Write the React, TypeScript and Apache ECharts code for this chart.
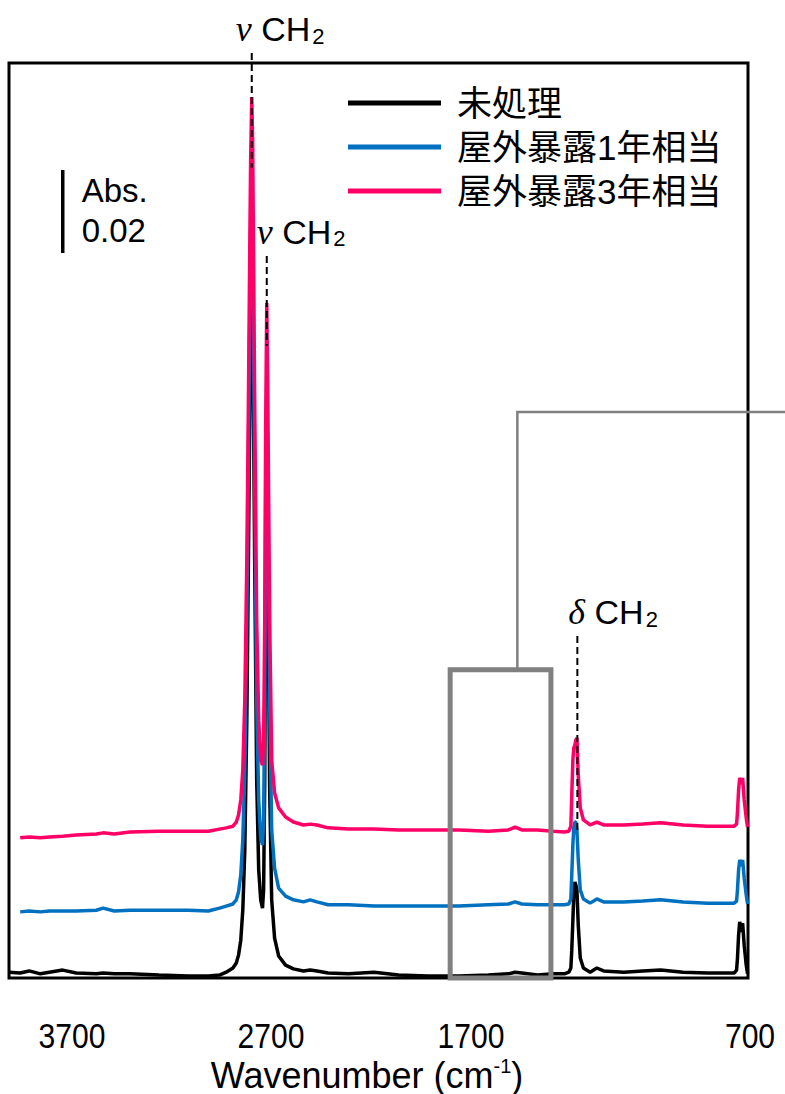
import React, { useEffect, useRef } from 'react';
import * as echarts from 'echarts';

// Wavenumber grid (cm-1), shared by all three spectra
const wavenumbers = [
  4000, 3950, 3910, 3860, 3820, 3760, 3700, 3610, 3580, 3530,
  3460, 3330, 3200, 3110, 3060, 3030, 3000, 2985, 2975, 2965,
  2956, 2947, 2938, 2930, 2925, 2921, 2916, 2912, 2903, 2894,
  2885, 2876, 2868, 2863, 2858, 2854, 2849, 2845, 2836, 2827,
  2814, 2796, 2765, 2730, 2685, 2655, 2625, 2575, 2485, 2370,
  2260, 2130, 1990, 1860, 1770, 1740, 1710, 1640, 1570, 1520,
  1500, 1491, 1487, 1482, 1478, 1473, 1469, 1464, 1458, 1449,
  1435, 1405, 1375, 1345, 1255, 1170, 1090, 990, 880, 790,
  762, 751, 747, 742, 737, 733, 729, 724, 717, 708, 702,
];

// Absorbance, untreated sample
const untreated = [
  0.0014, 0.0012, 0.0017, 0.0010, 0.0014, 0.0019, 0.0012, 0.0010, 0.0012, 0.0010,
  0.0010, 0.0007, 0.0005, 0.0005, 0.0007, 0.0014, 0.0024, 0.0036, 0.0055, 0.0091,
  0.0163, 0.0308, 0.0620, 0.1053, 0.1342, 0.1582, 0.1762, 0.1630, 0.1005, 0.0476,
  0.0260, 0.0188, 0.0168, 0.0212, 0.0476, 0.0909, 0.1270, 0.1053, 0.0452, 0.0188,
  0.0096, 0.0053, 0.0031, 0.0022, 0.0017, 0.0019, 0.0017, 0.0012, 0.0010, 0.0014,
  0.0007, 0.0005, 0.0005, 0.0007, 0.0010, 0.0014, 0.0012, 0.0007, 0.0010, 0.0010,
  0.0014, 0.0024, 0.0067, 0.0139, 0.0200, 0.0231, 0.0224, 0.0212, 0.0127, 0.0048,
  0.0024, 0.0014, 0.0024, 0.0017, 0.0014, 0.0017, 0.0019, 0.0014, 0.0012, 0.0012,
  0.0012, 0.0019, 0.0048, 0.0103, 0.0135, 0.0120, 0.0111, 0.0132, 0.0079, 0.0031, 0.0010,
];

// Absorbance, 1 year outdoor-exposure equivalent (offset trace)
const outdoor1y = [
  null, 0.0159, 0.0161, 0.0159, 0.0161, 0.0161, 0.0161, 0.0163, 0.0168, 0.0161,
  0.0163, 0.0163, 0.0163, 0.0161, 0.0168, 0.0173, 0.0178, 0.0188, 0.0207, 0.0248,
  0.0332, 0.0500, 0.0861, 0.1294, 0.1582, 0.1798, 0.1931, 0.1823, 0.1197, 0.0668,
  0.0428, 0.0337, 0.0320, 0.0380, 0.0668, 0.1125, 0.1438, 0.1245, 0.0668, 0.0356,
  0.0264, 0.0216, 0.0197, 0.0188, 0.0183, 0.0188, 0.0183, 0.0176, 0.0176, 0.0173,
  0.0173, 0.0173, 0.0173, 0.0176, 0.0178, 0.0183, 0.0178, 0.0176, 0.0176, 0.0176,
  0.0178, 0.0190, 0.0248, 0.0320, 0.0361, 0.0375, 0.0375, 0.0356, 0.0284, 0.0212,
  0.0190, 0.0180, 0.0190, 0.0183, 0.0183, 0.0185, 0.0188, 0.0183, 0.0180, 0.0180,
  0.0180, 0.0185, 0.0212, 0.0260, 0.0284, 0.0277, 0.0269, 0.0284, 0.0240, 0.0200, 0.0178,
];

// Absorbance, 3 years outdoor-exposure equivalent (offset trace)
const outdoor3y = [
  null, 0.0337, 0.0339, 0.0337, 0.0339, 0.0341, 0.0344, 0.0346, 0.0349, 0.0346,
  0.0351, 0.0353, 0.0353, 0.0353, 0.0358, 0.0361, 0.0365, 0.0375, 0.0392, 0.0428,
  0.0500, 0.0668, 0.1005, 0.1438, 0.1750, 0.1967, 0.2118, 0.2015, 0.1390, 0.0861,
  0.0620, 0.0524, 0.0512, 0.0572, 0.0861, 0.1318, 0.1623, 0.1438, 0.0861, 0.0524,
  0.0445, 0.0409, 0.0387, 0.0375, 0.0368, 0.0370, 0.0368, 0.0361, 0.0358, 0.0358,
  0.0356, 0.0356, 0.0356, 0.0353, 0.0356, 0.0363, 0.0356, 0.0356, 0.0353, 0.0351,
  0.0353, 0.0365, 0.0440, 0.0524, 0.0553, 0.0560, 0.0572, 0.0577, 0.0488, 0.0409,
  0.0380, 0.0368, 0.0375, 0.0368, 0.0368, 0.0370, 0.0373, 0.0368, 0.0365, 0.0365,
  0.0365, 0.0370, 0.0399, 0.0452, 0.0481, 0.0476, 0.0466, 0.0481, 0.0428, 0.0385, 0.0363,
];

const seriesNames = ['未処理', '屋外暴露1年相当', '屋外暴露3年相当'];
const seriesValues = [untreated, outdoor1y, outdoor3y];
const seriesColors = ['#000000', '#0070C0', '#FF0066'];

// x-axis tick labels and title
const tickLabels = ['3700', '2700', '1700', '700'];
const axisTitle = 'Wavenumber (cm';
const axisTitleSup = '-1';

// Peak assignments: mode symbol, band position and the extent of the guide line
const peakSymbols = ['ν', 'ν', 'δ'];
const peakWavenumbers = [2916, 2849, 1462];
const peakGuideTop = [0.2224, 0.1736, 0.0822];
const peakGuideBottom = [0.1948, 0.152, 0.0353];

// Absorbance scale bar
const scaleBarWavenumber = 3760;
const scaleBarBase = 0.1743;
const scaleBarSize = 0.02;

// Region highlighted for enlargement
const insetRange = [2030, 1580];
const insetTop = 0.0741;
const insetLinkWavenumber = 1730;
const insetLinkLevel = 0.1361;

// Layout (pixels)
const GRID = { left: 9, top: 63, width: 739, height: 915 };
const tickLabelCenters = [72, 271, 471, 750];
const tickLabelY = 1036;
const peakLabelDx = [-16, -10, -9];
const SANS = "'Liberation Sans', Arial, sans-serif";
const SERIF = "'Liberation Serif', 'Times New Roman', serif";
const CJK = "'Liberation Sans', 'Noto Sans CJK JP', sans-serif";

export default function App() {
  const ref = useRef<HTMLDivElement>(null);

  useEffect(() => {
    document.body.style.margin = '0';
    const el = ref.current;
    if (!el) return;
    const chart = echarts.init(el, null, { renderer: 'svg' });

    const spectra = seriesNames.map((name, k) => ({
      name,
      type: 'line',
      showSymbol: false,
      silent: true,
      color: seriesColors[k],
      lineStyle: { width: 3.5, color: seriesColors[k] },
      data: wavenumbers
        .map((w, i) => [w, seriesValues[k][i]])
        .filter((p) => p[1] !== null),
    }));

    chart.setOption({
      animation: false,
      grid: {
        ...GRID,
        show: true,
        borderColor: '#000',
        borderWidth: 3,
        backgroundColor: 'transparent',
      },
      xAxis: { type: 'value', min: 700, max: 4000, inverse: true, show: false },
      yAxis: { type: 'value', min: 0, max: 0.22, show: false },
      legend: {
        data: seriesNames,
        orient: 'vertical',
        left: 343,
        top: 80,
        icon: 'rect',
        itemWidth: 93,
        itemHeight: 5,
        itemGap: 8,
        selectedMode: false,
        textStyle: {
          fontSize: 35,
          lineHeight: 36,
          fontFamily: CJK,
          color: '#000',
          padding: [0, 0, 0, 11],
        },
      },
      series: [
        ...spectra,
        {
          name: 'scale',
          type: 'line',
          showSymbol: false,
          silent: true,
          lineStyle: { width: 3.5, color: '#000' },
          data: [
            [scaleBarWavenumber, scaleBarBase],
            [scaleBarWavenumber, scaleBarBase + scaleBarSize],
          ],
        },
      ],
    });

    const toPx = (w: number, a: number) =>
      chart.convertToPixel({ gridIndex: 0 }, [w, a]) as number[];

    const graphics: any[] = [];

    // peak guide lines and assignment labels
    peakWavenumbers.forEach((w, i) => {
      const top = toPx(w, peakGuideTop[i]);
      const bottom = toPx(w, peakGuideBottom[i]);
      graphics.push({
        type: 'line',
        z: 100,
        shape: { x1: top[0], y1: top[1], x2: bottom[0], y2: bottom[1] },
        style: { stroke: '#000', lineWidth: 2, lineDash: [7, 4] },
      });
      graphics.push({
        type: 'text',
        z: 100,
        x: top[0] + peakLabelDx[i],
        y: top[1] - 24,
        style: {
          text: `{g|${peakSymbols[i]}} {c|CH}{s|2}`,
          fontSize: 34,
          fontFamily: SANS,
          fill: '#000',
          align: 'left',
          verticalAlign: 'middle',
          rich: {
            g: { fontFamily: SERIF, fontStyle: 'italic', fontSize: 36, lineHeight: 36, fill: '#000', verticalAlign: 'middle' },
            c: { fontFamily: SANS, fontSize: 34, lineHeight: 36, fill: '#000', verticalAlign: 'middle' },
            s: { fontFamily: SANS, fontSize: 22, lineHeight: 4, fill: '#000', verticalAlign: 'bottom', padding: [0, 0, 0, 2] },
          },
        },
      });
    });

    // highlighted region and its leader line
    const rA = toPx(insetRange[0], insetTop);
    const rB = toPx(insetRange[1], 0);
    graphics.push({
      type: 'rect',
      z: 100,
      shape: { x: rA[0], y: rA[1], width: rB[0] - rA[0], height: rB[1] - rA[1] },
      style: { fill: 'none', stroke: '#808080', lineWidth: 5 },
    });
    const l1 = toPx(insetLinkWavenumber, insetTop);
    const l2 = toPx(insetLinkWavenumber, insetLinkLevel);
    graphics.push({
      type: 'polyline',
      z: 100,
      shape: { points: [[l1[0], l1[1]], [l2[0], l2[1]], [800, l2[1]]] },
      style: { fill: 'none', stroke: '#808080', lineWidth: 2.5 },
    });

    // scale bar label
    const sb = toPx(scaleBarWavenumber, scaleBarBase + scaleBarSize);
    graphics.push({
      type: 'text',
      z: 100,
      x: sb[0] + 19,
      y: sb[1] + 21,
      style: { text: 'Abs.', fontSize: 33, fontFamily: SANS, fill: '#000', verticalAlign: 'middle' },
    });
    graphics.push({
      type: 'text',
      z: 100,
      x: sb[0] + 19,
      y: sb[1] + 61,
      style: { text: '0.02', fontSize: 33, fontFamily: SANS, fill: '#000', verticalAlign: 'middle' },
    });

    // x-axis labels
    tickLabels.forEach((t, i) => {
      graphics.push({
        type: 'text',
        z: 100,
        x: tickLabelCenters[i],
        y: tickLabelY,
        scaleX: 0.86,
        style: {
          text: t,
          fontSize: 35,
          fontFamily: SANS,
          fill: '#000',
          align: 'center',
          verticalAlign: 'middle',
        },
      });
    });
    graphics.push({
      type: 'text',
      z: 100,
      x: 367,
      y: 1075,
      style: {
        text: `{t|${axisTitle}}{u|${axisTitleSup}}{t|)}`,
        fontSize: 36,
        fontFamily: SANS,
        fill: '#000',
        align: 'center',
        verticalAlign: 'middle',
        rich: {
          t: { fontSize: 36, fontFamily: SANS, fill: '#000', lineHeight: 38 },
          u: { fontSize: 20, fontFamily: SANS, fill: '#000', lineHeight: 20, verticalAlign: 'top' },
        },
      },
    });

    chart.setOption({ graphic: graphics });

    return () => chart.dispose();
  }, []);

  return <div ref={ref} style={{ width: 785, height: 1094 }} />;
}
